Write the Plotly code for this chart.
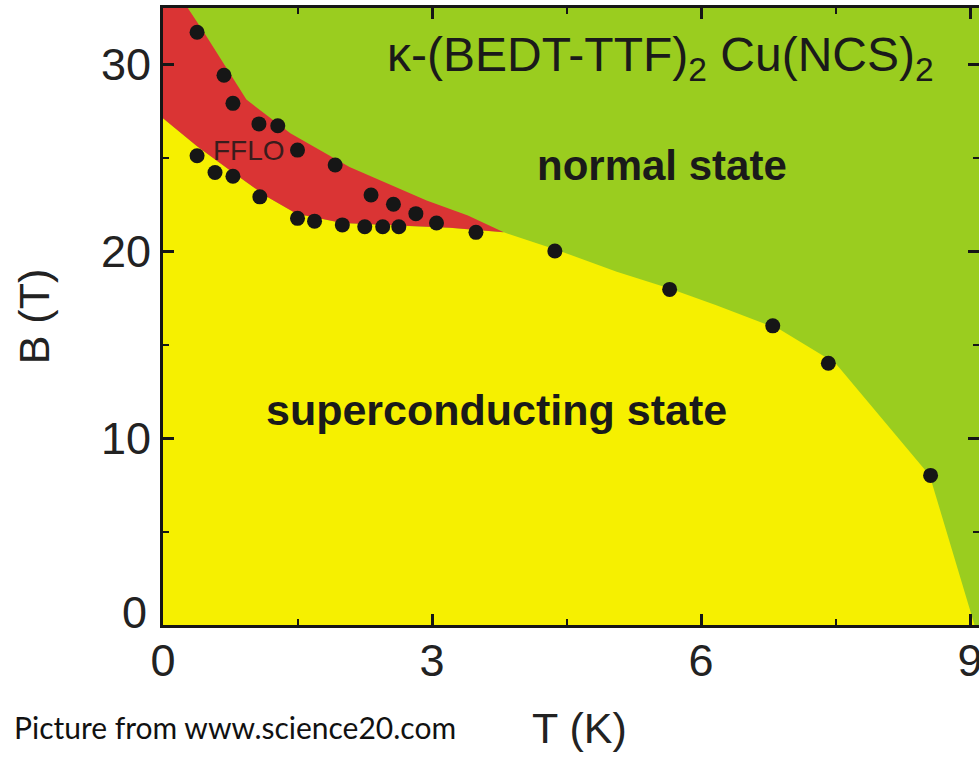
import plotly.graph_objects as go

# Measured critical fields of kappa-(BEDT-TTF)2 Cu(NCS)2
T_points = [0.38, 0.68, 0.78, 1.07, 1.28, 1.50, 0.38, 1.92, 0.58, 0.78, 1.08, 2.32, 2.57,
            1.50, 1.69, 2.82, 2.00, 2.25, 2.45, 2.63, 3.05, 3.49, 4.37, 5.65, 6.80, 7.42, 8.56]
B_points = [31.7, 29.4, 27.9, 26.8, 26.7, 25.4, 25.1, 24.6, 24.2, 24.0, 22.9, 23.0, 22.5,
            21.75, 21.6, 22.0, 21.4, 21.3, 21.3, 21.3, 21.5, 21.0, 20.0, 17.95, 16.0, 14.0, 8.0]

# Phase boundaries
fflo_upper_T = [0.0, 0.28, 0.47, 0.93, 1.42, 2.08, 2.94, 3.40, 3.80]
fflo_upper_B = [35.0, 33.0, 31.6, 28.1, 26.3, 24.5, 22.7, 21.9, 21.0]

fflo_lower_T = [0.0, 0.38, 0.78, 1.16, 1.49, 2.00, 2.64, 3.20, 3.80]
fflo_lower_B = [27.1, 25.6, 24.2, 22.9, 22.0, 21.5, 21.35, 21.25, 21.0]

hc2_T = [3.80, 4.37, 5.06, 5.65, 6.17, 6.88, 7.50, 8.55, 9.05]
hc2_B = [21.0, 20.1, 18.9, 18.0, 17.1, 15.8, 14.0, 8.0, 0.0]

x_ticks = [0, 3, 6, 9]
y_ticks = [10, 20, 30]

GREEN = "#9acd1f"
YELLOW = "#f6f000"
RED = "#da3434"
INK = "#161616"
FONT = "Liberation Sans, Arial, sans-serif"

fig = go.Figure()

# superconducting region: below the FFLO lower edge and the Hc2 line
sc_T = fflo_lower_T + hc2_T[1:] + [hc2_T[-1], 0.0]
sc_B = fflo_lower_B + hc2_B[1:] + [0.0, 0.0]
fig.add_trace(go.Scatter(x=sc_T, y=sc_B, mode="lines", fill="toself",
                         fillcolor=YELLOW, line=dict(width=0), hoverinfo="skip",
                         showlegend=False))

# FFLO pocket between the two boundaries
fflo_T = fflo_upper_T + fflo_lower_T[::-1]
fflo_B = fflo_upper_B + fflo_lower_B[::-1]
fig.add_trace(go.Scatter(x=fflo_T, y=fflo_B, mode="lines", fill="toself",
                         fillcolor=RED, line=dict(width=0), hoverinfo="skip",
                         showlegend=False))

fig.add_trace(go.Scatter(x=T_points, y=B_points, mode="markers",
                         marker=dict(size=15, color=INK, line=dict(width=0)),
                         showlegend=False))

# empty trace carrying the right-hand tick axis
fig.add_trace(go.Scatter(x=[], y=[], yaxis="y2", showlegend=False))

axis_common = dict(showline=True, linewidth=3, linecolor=INK, ticks="inside",
                   ticklen=11, tickwidth=2.5, tickcolor=INK, showgrid=False,
                   zeroline=False, ticklabeloverflow="allow", automargin=False,
                   tickfont=dict(family=FONT, size=45, color="#222"))

fig.update_layout(
    width=979, height=760,
    margin=dict(l=163, r=0, t=8, b=135),
    paper_bgcolor="white", plot_bgcolor=GREEN,
    xaxis=dict(range=[0, 9.10], tickvals=x_ticks, mirror="ticks",
               ticklabelstandoff=-6,
               minor=dict(dtick=1.5, tick0=0, ticks="inside", ticklen=6,
                          tickwidth=2, tickcolor=INK),
               **axis_common),
    yaxis=dict(range=[0, 33.0], tickvals=y_ticks,
               minor=dict(dtick=5, tick0=0, ticks="inside", ticklen=6,
                          tickwidth=2, tickcolor=INK),
               title=dict(text="B (T)", font=dict(family=FONT, size=43, color="#222"),
                          standoff=38),
               **axis_common),
    yaxis2=dict(range=[0, 33.0], overlaying="y", side="right", anchor="x",
                showline=False, showgrid=False, zeroline=False, showticklabels=False,
                automargin=False,
                ticks="inside", ticklen=11, tickwidth=2.5, tickcolor=INK,
                tickvals=[0, 10, 20, 30],
                minor=dict(dtick=5, tick0=0, ticks="inside", ticklen=6,
                           tickwidth=2, tickcolor=INK)),
)

# x-axis title
fig.add_annotation(x=0.511, y=-0.167, xref="paper", yref="paper", text="T (K)",
                   showarrow=False, xanchor="center", yanchor="middle",
                   font=dict(family=FONT, size=43, color="#222"))

# y "0" label sits a little above the corner
fig.add_annotation(x=0, y=0, xref="x", yref="y", text="0", showarrow=False,
                   xanchor="right", yanchor="middle", xshift=-14, yshift=13,
                   font=dict(family=FONT, size=45, color="#222"))

fig.add_annotation(x=5.55, y=30.3, xref="x", yref="y",
                   text="κ-(BEDT-TTF)<sub>2</sub> Cu(NCS)<sub>2</sub>",
                   showarrow=False, font=dict(family=FONT, size=48, color="#1a1a1a"))
fig.add_annotation(x=5.56, y=24.6, xref="x", yref="y", text="<b>normal state</b>",
                   showarrow=False, font=dict(family=FONT, size=42, color="#1a1a1a"))
fig.add_annotation(x=3.72, y=11.5, xref="x", yref="y",
                   text="<b>superconducting state</b>",
                   showarrow=False, font=dict(family=FONT, size=43, color="#1a1a1a"))
fig.add_annotation(x=0.96, y=25.4, xref="x", yref="y", text="FFLO",
                   showarrow=False, font=dict(family=FONT, size=28, color="#3a1c1c"))

fig.add_annotation(x=-0.185, y=-0.165, xref="paper", yref="paper",
                   text="Picture from www.science20.com", showarrow=False,
                   xanchor="left", yanchor="middle",
                   font=dict(family="Lato, Carlito, sans-serif", size=30, color="#111"))

fig.write_html("out.html")
